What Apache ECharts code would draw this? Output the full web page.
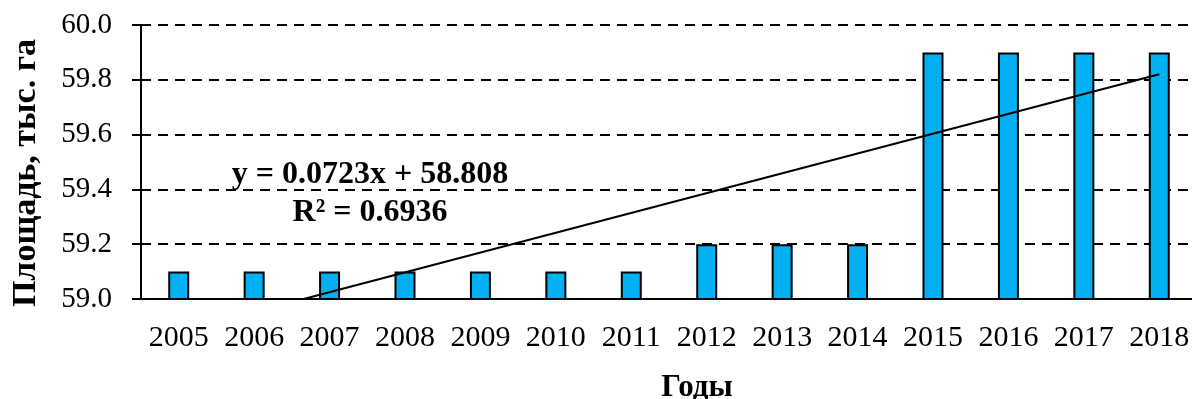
<!DOCTYPE html>
<html>
<head>
<meta charset="utf-8">
<style>html,body{margin:0;padding:0;background:#fff}#c{width:1192px;height:399px}</style>
<script src="https://cdn.jsdelivr.net/npm/echarts@6/dist/echarts.min.js"></script>
</head>
<body>
<div id="c"></div>
<script>
const years = ['2005','2006','2007','2008','2009','2010','2011','2012','2013','2014','2015','2016','2017','2018'];
const area = [59.1,59.1,59.1,59.1,59.1,59.1,59.1,59.2,59.2,59.2,59.9,59.9,59.9,59.9];
const yTicks = {min:59.0, max:60.0, interval:0.2};
const trendSlope = 0.0723;
const trendIntercept = 58.808;
const trendText = ['y = 0.0723x + 58.808', 'R² = 0.6936'];
const yTitle = 'Площадь, тыс. га';
const xTitle = 'Годы';

const xStart = (yTicks.min - trendIntercept) / trendSlope;
const xEnd = years.length;
const trendData = [[xStart, yTicks.min], [xEnd, trendIntercept + trendSlope * xEnd]];

const font = 'Liberation Serif';
const chart = echarts.init(document.getElementById('c'));
chart.setOption({
  animation:false,
  backgroundColor:'#fff',
  grid:{left:141, top:25, width:1056, height:274, outerBoundsMode:'none', containLabel:false},
  xAxis:[{
    type:'category', data:years,
    axisLine:{lineStyle:{color:'#000', width:2}},
    axisTick:{length:9, lineStyle:{color:'#000', width:2}},
    axisLabel:{color:'#000', fontFamily:font, fontSize:30, margin:24, interval:0},
    name:xTitle, nameLocation:'middle', nameGap:73,
    nameTextStyle:{color:'#000', fontFamily:font, fontSize:31, fontWeight:'bold', padding:[0,0,0,56]}
  },{
    type:'value', min:0.5, max:years.length+0.5, show:false
  }],
  yAxis:{
    type:'value', min:yTicks.min, max:yTicks.max, interval:yTicks.interval,
    axisLine:{show:true, lineStyle:{color:'#000', width:2}},
    axisTick:{show:true, length:9, lineStyle:{color:'#000', width:2}},
    axisLabel:{color:'#000', fontFamily:font, fontSize:29, margin:29,
      formatter:v=>v.toFixed(1)},
    splitLine:{lineStyle:{color:'#000', width:2, type:[10,7]}},
    name:yTitle, nameLocation:'middle', nameGap:98,
    nameTextStyle:{color:'#000', fontFamily:font, fontSize:34, fontWeight:'bold', padding:[0,22,0,0]}
  },
  series:[{
    type:'bar', data:area, barWidth:21,
    itemStyle:{color:'#00B0F0', borderColor:'#000', borderWidth:2}
  },{
    type:'line', xAxisIndex:1, data:trendData, symbol:'none',
    lineStyle:{color:'#000', width:2}
  }],
  graphic:[{
    type:'text', x:370, y:194,
    style:{text:trendText.join('\n'), fontFamily:font, fontSize:32, fontWeight:'bold',
      fill:'#000', align:'center', verticalAlign:'middle', lineHeight:38}
  }]
});
</script>
</body>
</html>
